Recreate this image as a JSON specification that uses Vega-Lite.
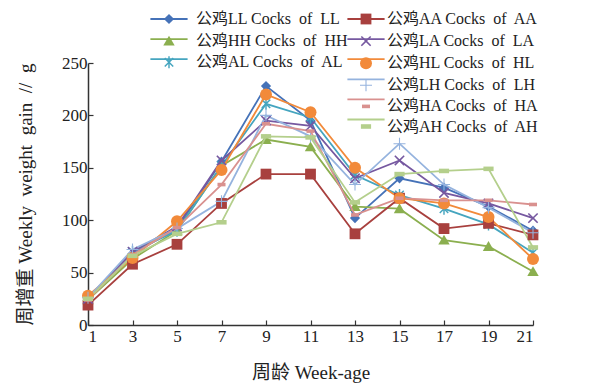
{
  "$schema": "https://vega.github.io/schema/vega-lite/v6.json",
  "width": 445,
  "height": 262,
  "autosize": {"type": "none"},
  "padding": {"left": 88, "top": 63, "right": 57, "bottom": 59},
  "background": "white",
  "config": {
    "view": {"stroke": null},
    "font": "Liberation Serif, Noto Sans CJK SC",
    "axis": {
      "labelFont": "Liberation Serif, Noto Sans CJK SC",
      "titleFont": "Liberation Serif, Noto Sans CJK SC",
      "labelFontSize": 17,
      "titleFontSize": 19,
      "titleFontWeight": "normal",
      "labelColor": "#222222",
      "titleColor": "#222222",
      "domainColor": "#333333",
      "domainWidth": 1.5,
      "tickColor": "#333333",
      "tickWidth": 1.2,
      "grid": false
    },
    "legend": {
      "orient": "none",
      "labelFont": "Liberation Serif, Noto Sans CJK SC",
      "labelFontSize": 16,
      "labelColor": "#222222",
      "symbolSize": 144,
      "padding": 0,
      "rowPadding": 4.1
    }
  },
  "data": {
    "values": [
      {"s": "LL", "w": 1, "v": 25}, {"s": "AA", "w": 1, "v": 19}, {"s": "HH", "w": 1, "v": 24}, {"s": "LA", "w": 1, "v": 25}, {"s": "AL", "w": 1, "v": 25}, {"s": "HL", "w": 1, "v": 28}, {"s": "LH", "w": 1, "v": 26}, {"s": "HA", "w": 1, "v": 24}, {"s": "AH", "w": 1, "v": 25},
      {"s": "LL", "w": 3, "v": 68}, {"s": "AA", "w": 3, "v": 58}, {"s": "HH", "w": 3, "v": 63}, {"s": "LA", "w": 3, "v": 70}, {"s": "AL", "w": 3, "v": 70}, {"s": "HL", "w": 3, "v": 64}, {"s": "LH", "w": 3, "v": 72}, {"s": "HA", "w": 3, "v": 67}, {"s": "AH", "w": 3, "v": 66},
      {"s": "LL", "w": 5, "v": 92}, {"s": "AA", "w": 5, "v": 77}, {"s": "HH", "w": 5, "v": 90}, {"s": "LA", "w": 5, "v": 94}, {"s": "AL", "w": 5, "v": 90}, {"s": "HL", "w": 5, "v": 99}, {"s": "LH", "w": 5, "v": 92}, {"s": "HA", "w": 5, "v": 93}, {"s": "AH", "w": 5, "v": 87},
      {"s": "LL", "w": 7, "v": 156}, {"s": "AA", "w": 7, "v": 116}, {"s": "HH", "w": 7, "v": 152}, {"s": "LA", "w": 7, "v": 157}, {"s": "AL", "w": 7, "v": 152}, {"s": "HL", "w": 7, "v": 148}, {"s": "LH", "w": 7, "v": 118}, {"s": "HA", "w": 7, "v": 134}, {"s": "AH", "w": 7, "v": 98},
      {"s": "LL", "w": 9, "v": 228}, {"s": "AA", "w": 9, "v": 144}, {"s": "HH", "w": 9, "v": 177}, {"s": "LA", "w": 9, "v": 195}, {"s": "AL", "w": 9, "v": 211}, {"s": "HL", "w": 9, "v": 220}, {"s": "LH", "w": 9, "v": 200}, {"s": "HA", "w": 9, "v": 192}, {"s": "AH", "w": 9, "v": 180},
      {"s": "LL", "w": 11, "v": 195}, {"s": "AA", "w": 11, "v": 144}, {"s": "HH", "w": 11, "v": 170}, {"s": "LA", "w": 11, "v": 190}, {"s": "AL", "w": 11, "v": 198}, {"s": "HL", "w": 11, "v": 203}, {"s": "LH", "w": 11, "v": 180}, {"s": "HA", "w": 11, "v": 185}, {"s": "AH", "w": 11, "v": 179},
      {"s": "LL", "w": 13, "v": 102}, {"s": "AA", "w": 13, "v": 87}, {"s": "HH", "w": 13, "v": 113}, {"s": "LA", "w": 13, "v": 140}, {"s": "AL", "w": 13, "v": 143}, {"s": "HL", "w": 13, "v": 150}, {"s": "LH", "w": 13, "v": 134}, {"s": "HA", "w": 13, "v": 105}, {"s": "AH", "w": 13, "v": 117},
      {"s": "LL", "w": 15, "v": 140}, {"s": "AA", "w": 15, "v": 121}, {"s": "HH", "w": 15, "v": 111}, {"s": "LA", "w": 15, "v": 157}, {"s": "AL", "w": 15, "v": 124}, {"s": "HL", "w": 15, "v": 121}, {"s": "LH", "w": 15, "v": 173}, {"s": "HA", "w": 15, "v": 121}, {"s": "AH", "w": 15, "v": 144},
      {"s": "LL", "w": 17, "v": 131}, {"s": "AA", "w": 17, "v": 92}, {"s": "HH", "w": 17, "v": 81}, {"s": "LA", "w": 17, "v": 126}, {"s": "AL", "w": 17, "v": 111}, {"s": "HL", "w": 17, "v": 116}, {"s": "LH", "w": 17, "v": 134}, {"s": "HA", "w": 17, "v": 119}, {"s": "AH", "w": 17, "v": 147},
      {"s": "LL", "w": 19, "v": 113}, {"s": "AA", "w": 19, "v": 97}, {"s": "HH", "w": 19, "v": 75}, {"s": "LA", "w": 19, "v": 116}, {"s": "AL", "w": 19, "v": 96}, {"s": "HL", "w": 19, "v": 103}, {"s": "LH", "w": 19, "v": 112}, {"s": "HA", "w": 19, "v": 119}, {"s": "AH", "w": 19, "v": 149},
      {"s": "LL", "w": 21, "v": 90}, {"s": "AA", "w": 21, "v": 86}, {"s": "HH", "w": 21, "v": 51}, {"s": "LA", "w": 21, "v": 102}, {"s": "AL", "w": 21, "v": 69}, {"s": "HL", "w": 21, "v": 63}, {"s": "LH", "w": 21, "v": 88}, {"s": "HA", "w": 21, "v": 115}, {"s": "AH", "w": 21, "v": 74}
    ]
  },
  "encoding": {
    "x": {"field": "w", "type": "quantitative", "scale": {"domain": [1, 21], "nice": false, "zero": false},
      "axis": {"values": [1, 3, 5, 7, 9, 11, 13, 15, 17, 19, 21], "title": "周龄 Week-age", "tickSize": -5, "labelPadding": 8, "titlePadding": 19}},
    "y": {"field": "v", "type": "quantitative", "scale": {"domain": [0, 250], "nice": false},
      "axis": {"values": [0, 50, 100, 150, 200, 250], "title": "周增重 Weekly\u00a0 weight\u00a0 gain\u00a0 //\u00a0 g", "tickSize": -5, "labelPadding": 6, "titlePadding": 26}}
  },
  "layer": [
    {
      "transform": [{"filter": {"field": "s", "oneOf": ["LL", "HH", "AL"]}}],
      "layer": [
        {
          "mark": {"type": "line", "strokeWidth": 1.8},
          "encoding": {
            "stroke": {"field": "s", "type": "nominal", "sort": ["LL", "HH", "AL"],
              "scale": {"range": ["#4572B8", "#8BAF4F", "#45A5BF"]},
              "legend": {"title": null, "legendX": 73, "legendY": -52, "labelOffset": 19,
                "symbolType": "M-3.1,0L3.1,0", "symbolStrokeWidth": 1.8,
                "labelExpr": "''"}}
          }
        },
        {
          "mark": {"type": "point", "filled": true, "size": 144, "opacity": 1},
          "encoding": {
            "color": {"field": "s", "type": "nominal",
              "scale": {"domain": ["LL", "HH", "AL"], "range": ["#4572B8", "#8BAF4F", "#45A5BF"]},
              "legend": {"title": null, "legendX": 73, "legendY": -52, "labelOffset": 19, "symbolOpacity": 1,
                "labelExpr": "'公鸡' + datum.label + ' Cocks\u00a0 of\u00a0 ' + datum.label"}},
            "shape": {"field": "s", "type": "nominal",
              "scale": {"domain": ["LL", "HH", "AL"], "range": [
                "M0,-0.85L0.85,0L0,0.85L-0.85,0Z",
                "M0,-0.9L0.95,0.75L-0.95,0.75Z",
                "M-0.622,-0.792L0,-0.17L0.622,-0.792L0.792,-0.622L0.17,0L0.792,0.622L0.622,0.792L0,0.17L-0.622,0.792L-0.792,0.622L-0.17,0L-0.792,-0.622Z M-0.12,-1L0.12,-1L0.12,1L-0.12,1Z"]},
              "legend": {"title": null, "legendX": 73, "legendY": -52, "labelOffset": 19, "symbolOpacity": 1,
                "labelExpr": "'公鸡' + datum.label + ' Cocks\u00a0 of\u00a0 ' + datum.label"}}
          }
        }
      ]
    },
    {
      "transform": [{"filter": {"field": "s", "oneOf": ["AA", "LA", "HL", "LH", "HA", "AH"]}}],
      "layer": [
        {
          "mark": {"type": "line", "strokeWidth": 1.8},
          "encoding": {
            "stroke": {"field": "s", "type": "nominal", "sort": ["AA", "LA", "HL", "LH", "HA", "AH"],
              "scale": {"range": ["#A8403E", "#7658A0", "#F28A3A", "#95B3DE", "#D9918F", "#B4CF8C"]},
              "legend": {"title": null, "legendX": 270, "legendY": -52, "labelOffset": 13,
                "symbolType": "M-3.1,0L3.1,0", "symbolStrokeWidth": 1.8,
                "labelExpr": "''"}}
          }
        },
        {
          "mark": {"type": "point", "filled": true, "size": 144, "opacity": 1},
          "encoding": {
            "color": {"field": "s", "type": "nominal",
              "scale": {"domain": ["AA", "LA", "HL", "LH", "HA", "AH"], "range": ["#A8403E", "#7658A0", "#F28A3A", "#95B3DE", "#D9918F", "#B4CF8C"]},
              "legend": {"title": null, "legendX": 270, "legendY": -52, "labelOffset": 13, "symbolOpacity": 1,
                "labelExpr": "'公鸡' + datum.label + ' Cocks\u00a0 of\u00a0 ' + datum.label"}},
            "shape": {"field": "s", "type": "nominal",
              "scale": {"domain": ["AA", "LA", "HL", "LH", "HA", "AH"], "range": [
                "M-0.9,-0.9L0.9,-0.9L0.9,0.9L-0.9,0.9Z",
                "M-0.686,-0.87L0,-0.184L0.686,-0.87L0.87,-0.686L0.184,0L0.87,0.686L0.686,0.87L0,0.184L-0.686,0.87L-0.87,0.686L-0.184,0L-0.87,-0.686Z",
                "circle",
                "M-1,-0.09L-0.09,-0.09L-0.09,-1L0.09,-1L0.09,-0.09L1,-0.09L1,0.09L0.09,0.09L0.09,1L-0.09,1L-0.09,0.09L-1,0.09Z",
                "M-0.67,-0.3L0.67,-0.3L0.67,0.3L-0.67,0.3Z",
                "M-0.85,-0.38L0.85,-0.38L0.85,0.38L-0.85,0.38Z"]},
              "legend": {"title": null, "legendX": 270, "legendY": -52, "labelOffset": 13, "symbolOpacity": 1,
                "labelExpr": "'公鸡' + datum.label + ' Cocks\u00a0 of\u00a0 ' + datum.label"}}
          }
        }
      ]
    }
  ],
  "resolve": {"scale": {"color": "independent", "stroke": "independent", "shape": "independent"}}
}
